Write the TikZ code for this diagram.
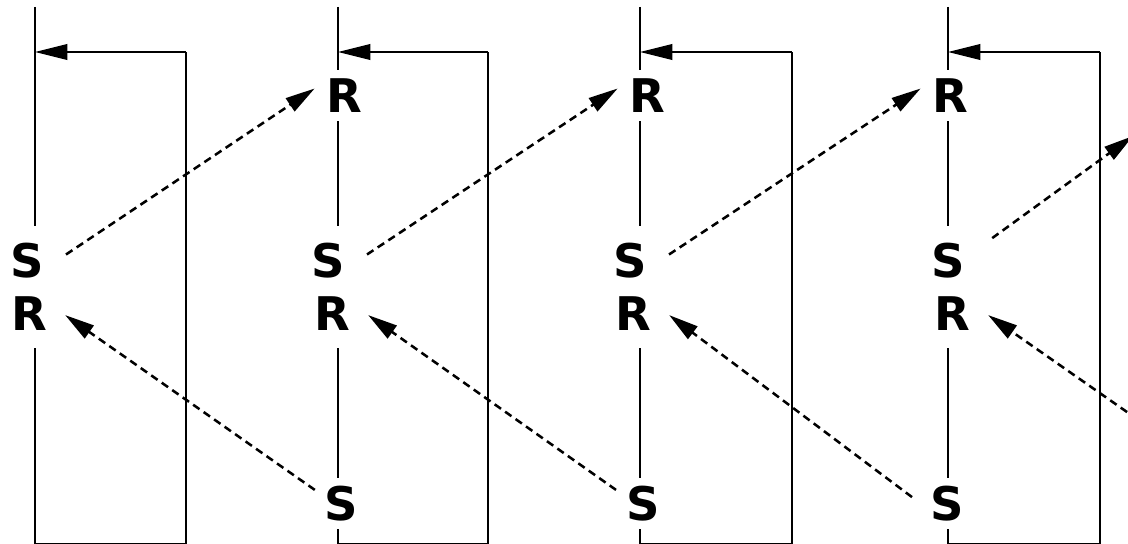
\documentclass[tikz,border=0pt]{standalone}
\usepackage{fontspec}
\setmainfont{DejaVu Sans}
\usetikzlibrary{arrows.meta}

\begin{document}
\begin{tikzpicture}[x=0.025cm, y=-0.025cm]
  \tikzstyle{every node}=[fill=white, inner xsep=0pt, inner ysep=6pt, text height=24.2pt, text depth=0pt, font=\fontsize{33}{33}\selectfont\bfseries]
  \tikzstyle{pair}=[inner ysep=12.5pt]
  \tikzstyle{wire}=[line width=1.6pt]
  \tikzstyle{msg}=[line width=1.8pt, dash pattern=on 5.5pt off 3.6pt, -{Triangle[length=21pt, width=11pt]}]

  \useasboundingbox (0,0) rectangle (1128,544);

  % frames
  \foreach \l/\r in {35/186, 338/488, 640/792, 948/1100} {
    \draw[wire] (\l,7) -- (\l,544) -- (\r,544) -- (\r,52);
    \draw[wire, -{Triangle[length=23pt, width=11pt]}] (\r,52) -- (\l,52);
  }

  % labels
  \node[pair] (r1) at (29,313.5) {R};
  \node[pair] (s1) at (27,260.5) {S};
  \foreach \i/\t/\s/\m/\b in {2/344/328/332/341, 3/647/630/633/643, 4/950/948/952/947} {
    \node (rt\i) at (\t,95.5) {R};
    \node[pair] (r\i) at (\m,313.5) {R};
    \node[pair] (s\i) at (\s,260.5) {S};
    \node (sb\i) at (\b,503.5) {S};
  }
  \coordinate (rt5) at (1133,136);
  \coordinate (sb5) at (1190,456);

  % messages
  \foreach \i/\j/\sx/\sy in {1/2/-0.23/0.34, 2/3/-0.25/0.34, 3/4/-0.45/0.16} {
    \draw[msg] ([xshift=0.55cm, yshift=0.15cm]s\i.east) -- ([xshift=-0.28cm, yshift=0.175cm]rt\j.west);
    \draw[msg] ([xshift=\sx cm, yshift=\sy cm]sb\j.west) -- ([xshift=0.45cm, yshift=-0.04cm]r\i.east);
  }
  \draw[msg] ([xshift=0.68cm, yshift=0.56cm]s4.east) -- (rt5);
  \draw[msg] (sb5) -- ([xshift=0.45cm, yshift=-0.04cm]r4.east);
\end{tikzpicture}
\end{document}
